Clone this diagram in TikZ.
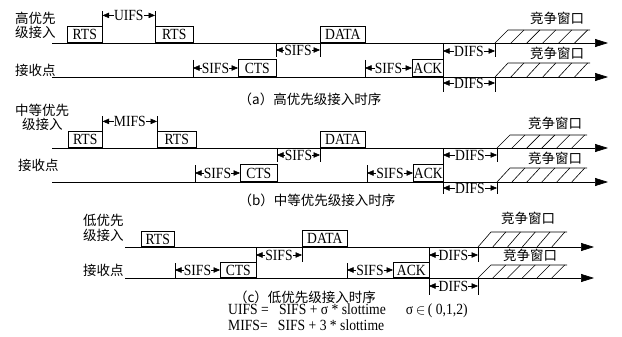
\documentclass[tikz,border=0pt]{standalone}
\usepackage{fontspec}
\setmainfont{Liberation Serif}
\newfontfamily\latfam[FakeStretch=0.88]{Liberation Serif}
\newfontfamily\zhf{Noto Sans CJK SC}
\usetikzlibrary{arrows.meta}
\newcommand\latf{\latfam\fontsize{15.5}{16}\selectfont}
\newcommand\zhfs{\zhf\fontsize{13.5}{14}\selectfont}
\newcommand\cwindow[5]{% x0, ybottom, ytop, xtopright, name
  \pgfmathsetmacro\cwdx{(#4-#1-13)/5.15}
  \draw[cw] (#1,#2) coordinate (#5bl) -- ({#1+13},#3) -- (#4,#3) coordinate (#5tr);
  \foreach \k in {1,...,5}{\draw[cw] ({#1+\k*\cwdx},#2) -- ({#1+13+\k*\cwdx},#3);}
}
\tikzset{
  tline/.style={line width=0.7pt,-{Triangle[length=13pt,width=8pt]}},
  pbox/.style={draw,line width=0.6pt,anchor=south west,inner sep=0pt,font=\latf},
  tick/.style={line width=0.6pt},
  gapl/.style={line width=0.5pt,{Triangle[length=6.5pt,width=5.5pt]}-{Triangle[length=6.5pt,width=5.5pt]}},
  glab/.style={fill=white,inner sep=0.2pt,font=\latf},
  cw/.style={line width=0.6pt},
  zh/.style={font=\zhfs,inner sep=0pt},
  zhw/.style={font=\zhfs,inner sep=0pt,anchor=west},
  txt/.style={font=\latf,inner sep=0pt,anchor=west},
}
\begin{document}
\begin{tikzpicture}[x=1pt,y=-1pt]
\useasboundingbox (0,0) rectangle (622,337);
\fill[white] (0,0) rectangle (622,337);

%% ---------------- panel (a) ----------------
\node[zhw] (la1) at (15,18) {高优先};
\node[zhw] (la2) at (15,32) {级接入};
\node[zhw] (la3) at (15,70) {接收点};
\coordinate (as0) at (52,43); \coordinate (as1) at (608,43);
\coordinate (ar0) at (52,77); \coordinate (ar1) at (608,77);
\draw[tline] (as0) -- (as1);
\draw[tline] (ar0) -- (ar1);
\node[pbox,minimum width=35pt,minimum height=16pt] (artsa) at (67,43) {RTS};
\node[pbox,minimum width=38pt,minimum height=16pt] (artsb) at (155,43) {RTS};
\draw[tick] (artsa.north east) -- ++(0,-15) coordinate (au1);
\draw[tick] (artsb.north west) -- ++(0,-15) coordinate (au2);
\draw[gapl] ([yshift=-4pt]au1) -- ([yshift=-4pt]au2) node[midway,glab] {UIFS};
\node[pbox,minimum width=38pt,minimum height=17pt] (acts) at (238,77) {CTS};
\draw[tick] (193,60) coordinate (ast1) -- (193,77);
\draw[gapl] (193,68) -- (238,68) node[midway,glab] {SIFS};
\node[pbox,minimum width=45pt,minimum height=16pt] (adata) at (320,43) {DATA};
\draw[tick] (276,43) -- (276,57);
\draw[tick] (320,43) -- (320,57);
\draw[gapl] (276,50) -- (320,50) node[midway,glab] {SIFS};
\node[pbox,minimum width=31pt,minimum height=17pt] (aack) at (412,77) {ACK};
\draw[tick] (365,60) -- (365,77);
\draw[gapl] (365,68) -- (412,68) node[midway,glab] {SIFS};
\draw[tick] (443,43) -- (443,92);
\draw[tick] (495,43) -- (495,57);
\draw[tick] (495,77) -- (495,92);
\draw[gapl] (443,51) -- (495,51) node[midway,glab] {DIFS};
\draw[gapl] (443,83) -- (495,83) node[midway,glab] {DIFS};
\cwindow{495}{43}{30}{590}{awa}
\cwindow{495}{77}{63}{590}{awb}
\node[zh] (acw1) at (557,18) {竞争窗口};
\node[zh] (acw2) at (557,53) {竞争窗口};
\node[zh] (capa) at (310,99) {（a）高优先级接入时序};

%% ---------------- panel (b) ----------------
\node[zhw] (lb1) at (15,110) {中等优先};
\node[zhw] (lb2) at (22,124) {级接入};
\node[zhw] (lb3) at (18,165) {接收点};
\coordinate (bs0) at (52,148); \coordinate (bs1) at (608,148);
\coordinate (br0) at (52,182); \coordinate (br1) at (608,182);
\draw[tline] (bs0) -- (bs1);
\draw[tline] (br0) -- (br1);
\node[pbox,minimum width=34pt,minimum height=16pt] (brtsa) at (68,148) {RTS};
\node[pbox,minimum width=39pt,minimum height=16pt] (brtsb) at (157,148) {RTS};
\draw[tick] (brtsa.north east) -- ++(0,-15) coordinate (bm1);
\draw[tick] (brtsb.north west) -- ++(0,-15) coordinate (bm2);
\draw[gapl] ([yshift=-5pt]bm1) -- ([yshift=-5pt]bm2) node[midway,glab] {MIFS};
\node[pbox,minimum width=37pt,minimum height=17pt] (bcts) at (240,182) {CTS};
\draw[tick] (195,165) -- (195,182);
\draw[gapl] (195,173) -- (240,173) node[midway,glab] {SIFS};
\node[pbox,minimum width=45pt,minimum height=16pt] (bdata) at (320,148) {DATA};
\draw[tick] (277,148) -- (277,162);
\draw[tick] (320,148) -- (320,162);
\draw[gapl] (277,155) -- (320,155) node[midway,glab] {SIFS};
\node[pbox,minimum width=30pt,minimum height=17pt] (back) at (413,182) {ACK};
\draw[tick] (367,165) -- (367,182);
\draw[gapl] (367,173) -- (413,173) node[midway,glab] {SIFS};
\draw[tick] (443,148) -- (443,194);
\draw[tick] (497,148) -- (497,162);
\draw[tick] (497,182) -- (497,194);
\draw[gapl] (443,155) -- (497,155) node[midway,glab] {DIFS};
\draw[gapl] (443,188) -- (497,188) node[midway,glab] {DIFS};
\cwindow{497}{148}{135}{587}{bwa}
\cwindow{497}{182}{168}{587}{bwb}
\node[zh] (bcw1) at (555,123) {竞争窗口};
\node[zh] (bcw2) at (555,158) {竞争窗口};
\node[zh] (capb) at (317,200) {（b）中等优先级接入时序};

%% ---------------- panel (c) ----------------
\node[zhw] (lc1) at (83,220) {低优先};
\node[zhw] (lc2) at (83,235) {级接入};
\node[zhw] (lc3) at (83,270) {接收点};
\coordinate (cs0) at (125,247); \coordinate (cs1) at (594,247);
\coordinate (cr0) at (125,278); \coordinate (cr1) at (594,278);
\draw[tline] (cs0) -- (cs1);
\draw[tline] (cr0) -- (cr1);
\node[pbox,minimum width=33pt,minimum height=15pt] (crts) at (141,247) {RTS};
\node[pbox,minimum width=36pt,minimum height=15pt] (ccts) at (220,278) {CTS};
\draw[tick] (175,263) -- (175,278);
\draw[gapl] (175,270) -- (220,270) node[midway,glab] {SIFS};
\node[pbox,minimum width=45pt,minimum height=16pt] (cdata) at (302,247) {DATA};
\draw[tick] (256,247) -- (256,262);
\draw[tick] (302,247) -- (302,262);
\draw[gapl] (256,255) -- (302,255) node[midway,glab] {SIFS};
\node[pbox,minimum width=36pt,minimum height=15pt] (cack) at (393,278) {ACK};
\draw[tick] (347,263) -- (347,278);
\draw[gapl] (347,270) -- (393,270) node[midway,glab] {SIFS};
\draw[tick] (429,247) -- (429,295);
\draw[tick] (478,247) -- (478,262);
\draw[tick] (478,278) -- (478,295);
\draw[gapl] (429,255) -- (478,255) node[midway,glab] {DIFS};
\draw[gapl] (429,286) -- (478,286) node[midway,glab] {DIFS};
\cwindow{478}{247}{232}{567}{cwa}
\cwindow{478}{278}{265}{567}{cwb}
\node[zh] (ccw1) at (528,218) {竞争窗口};
\node[zh] (ccw2) at (530,255) {竞争窗口};
\node[zh] (capc) at (305,297) {（c）低优先级接入时序};
\node[txt] (f1) at (228,311) {UIFS =\ \ \ SIFS + σ * slottime\hspace{20pt}σ\,$\in$\,( 0,1,2)};
\node[txt] (f2) at (228,325) {MIFS=\ \ \ SIFS + 3 * slottime};
\end{tikzpicture}
\end{document}
